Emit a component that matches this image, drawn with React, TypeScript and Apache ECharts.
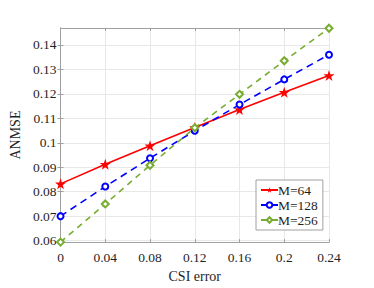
import React, { useEffect, useRef } from "react";
import * as echarts from "echarts";

const xValues = [0, 0.04, 0.08, 0.12, 0.16, 0.2, 0.24];
const m64 = [0.0832, 0.0912, 0.0988, 0.1062, 0.1136, 0.1206, 0.1275];
const m128 = [0.07, 0.0821, 0.0937, 0.1049, 0.1156, 0.1259, 0.136];
const m256 = [0.0594, 0.075, 0.0908, 0.1061, 0.1198, 0.1335, 0.1468];
const yTicks = [0.06, 0.07, 0.08, 0.09, 0.1, 0.11, 0.12, 0.13, 0.14];
const seriesNames = ["M=64", "M=128", "M=256"];

const STAR = "path://M50,0 L61.8,35.4 L99,35.4 L69,57.3 L80.4,92.7 L50,70.8 L19.6,92.7 L31,57.3 L1,35.4 L38.2,35.4 Z";

const FONT = "Liberation Serif";
const AXIS_COLOR = "#a0a0a0";
const TEXT_COLOR = "#1f1f1f";

export default function App() {
  const ref = useRef<HTMLDivElement>(null);
  useEffect(() => {
    if (!ref.current) return;
    const chart = echarts.init(ref.current, undefined, { renderer: "svg" });
    const pair = (arr: number[]) => xValues.map((x, i) => [x, arr[i]]);
    chart.setOption({
      animation: false,
      backgroundColor: "#ffffff",
      textStyle: { fontFamily: FONT, fontSize: 13 },
      grid: { left: 48, right: 45, top: 28, bottom: 40, show: false },
      legend: {
        orient: "vertical",
        left: 256,
        top: 180,
        data: seriesNames,
        itemWidth: 17,
        itemHeight: 7,
        itemGap: 1,
        padding: [3, 5, 3, 4],
        backgroundColor: "#ffffff",
        borderColor: "#a0a0a0",
        borderWidth: 1,
        borderRadius: 0,
        textStyle: { fontFamily: FONT, fontSize: 13.5, lineHeight: 14, color: TEXT_COLOR, padding: [0, 0, 0, -5] },
      },
      xAxis: [
        {
          type: "value",
          min: 0,
          max: 0.24,
          interval: 0.04,
          position: "bottom",
          name: "CSI error",
          nameLocation: "middle",
          nameGap: 22,
          nameTextStyle: { fontFamily: FONT, fontSize: 14, color: TEXT_COLOR },
          axisLine: { show: true, lineStyle: { color: AXIS_COLOR, width: 1 } },
          axisTick: { show: true, inside: true, length: 3, lineStyle: { color: AXIS_COLOR } },
          axisLabel: { fontFamily: FONT, fontSize: 13.5, color: TEXT_COLOR, margin: 8 },
          splitLine: { show: true, lineStyle: { color: "#e8e8e8", width: 1 } },
        },
        {
          type: "value",
          min: 0,
          max: 0.24,
          interval: 0.04,
          position: "top",
          axisLine: { show: true, lineStyle: { color: AXIS_COLOR, width: 1 } },
          axisTick: { show: true, inside: true, length: 3, lineStyle: { color: AXIS_COLOR } },
          axisLabel: { show: false },
          splitLine: { show: false },
        },
      ],
      yAxis: [
        {
          type: "value",
          min: 0.0594,
          max: 0.1469,
          position: "left",
          name: "ANMSE",
          nameLocation: "middle",
          nameGap: 30,
          nameTextStyle: { fontFamily: FONT, fontSize: 14, color: TEXT_COLOR },
          axisLine: { show: true, lineStyle: { color: AXIS_COLOR, width: 1 } },
          axisTick: { show: true, inside: true, length: 3, lineStyle: { color: AXIS_COLOR }, customValues: yTicks },
          axisLabel: { fontFamily: FONT, fontSize: 13.5, color: TEXT_COLOR, margin: 4, customValues: yTicks },
          splitLine: { show: true, lineStyle: { color: "#e8e8e8", width: 1 } },
        },
        {
          type: "value",
          min: 0.0594,
          max: 0.1469,
          position: "right",
          axisLine: { show: true, lineStyle: { color: AXIS_COLOR, width: 1 } },
          axisTick: { show: true, inside: true, length: 3, lineStyle: { color: AXIS_COLOR }, customValues: yTicks },
          axisLabel: { show: false, customValues: yTicks },
          splitLine: { show: false },
        },
      ],
      series: [
        {
          name: seriesNames[0],
          type: "line",
          data: pair(m64),
          symbol: STAR,
          symbolSize: 11,
          showAllSymbol: true,
          itemStyle: { color: "#ff0000" },
          lineStyle: { color: "#ff0000", width: 1.6, type: "solid" },
          z: 3,
        },
        {
          name: seriesNames[1],
          type: "line",
          data: pair(m128),
          symbol: "emptyCircle",
          symbolSize: 6,
          showAllSymbol: true,
          itemStyle: { color: "#0000ff", borderWidth: 2 },
          lineStyle: { color: "#0000ff", width: 1.6, type: [7, 5] },
          z: 4,
        },
        {
          name: seriesNames[2],
          type: "line",
          data: pair(m256),
          symbol: "emptyDiamond",
          symbolSize: 7,
          showAllSymbol: true,
          itemStyle: { color: "#77ac30", borderWidth: 1.8 },
          lineStyle: { color: "#77ac30", width: 1.6, type: [6, 5] },
          z: 5,
        },
      ],
    });
    return () => chart.dispose();
  }, []);
  return <div ref={ref} style={{ position: "fixed", left: 0, top: 0, width: 374, height: 288 }} />;
}
